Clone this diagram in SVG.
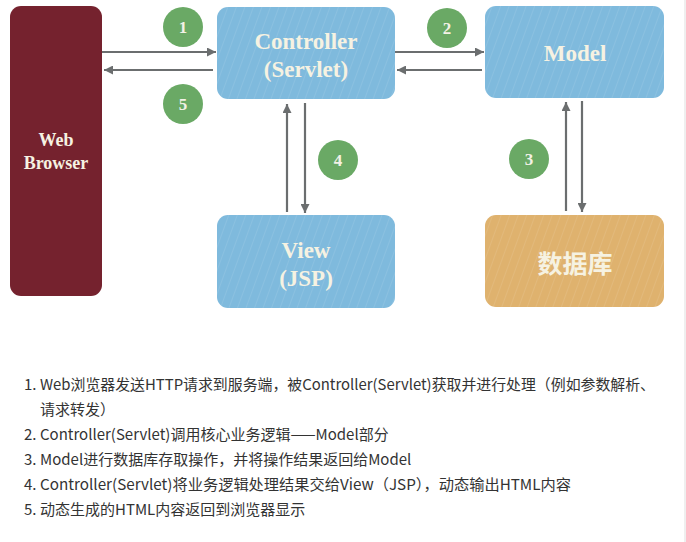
<svg xmlns="http://www.w3.org/2000/svg" width="686" height="542" viewBox="0 0 686 542">
<style>
.box{stroke:none}
.blue{fill:#7fbadd}
.tan{fill:#dfb26e}
.wine{fill:#75222e}
.lbl{font-family:"Liberation Serif","DejaVu Serif",serif;font-weight:bold;fill:#f6f2e2;text-anchor:middle}
.num{font-family:"Liberation Serif","DejaVu Serif",serif;font-weight:bold;fill:#f3f1e6;text-anchor:middle;font-size:17px}
.badge{fill:#6aa965}
.conn{stroke:#6b6e6f;stroke-width:2.2;fill:none}
.txt{font-family:"Noto Sans CJK SC","Microsoft YaHei",sans-serif;font-size:15px;fill:#333}
</style>
<defs>
<marker id="ah" viewBox="0 0 10 10" refX="10" refY="5" markerWidth="10" markerHeight="9" markerUnits="userSpaceOnUse" orient="auto">
<path d="M0,0 L10,5 L0,10 z" fill="#6b6e6f"/>
</marker>
<pattern id="grain" width="8" height="8" patternUnits="userSpaceOnUse" patternTransform="rotate(20)">
<line x1="0" y1="0" x2="0" y2="8" stroke="#ffffff" stroke-opacity="0.12" stroke-width="1.5"/>
</pattern>
</defs>
<rect x="0" y="0" width="686" height="542" fill="#ffffff"/>
<rect x="684" y="0" width="2" height="542" fill="#efefef"/>

<g id="connectors">
<line class="conn" x1="102" y1="52" x2="216" y2="52" marker-end="url(#ah)"/>
<line class="conn" x1="213" y1="70" x2="104" y2="70" marker-end="url(#ah)"/>
<line class="conn" x1="395" y1="52" x2="484" y2="52" marker-end="url(#ah)"/>
<line class="conn" x1="482" y1="70" x2="397" y2="70" marker-end="url(#ah)"/>
<line class="conn" x1="287" y1="212" x2="287" y2="104" marker-end="url(#ah)"/>
<line class="conn" x1="305" y1="103" x2="305" y2="213" marker-end="url(#ah)"/>
<line class="conn" x1="566" y1="211" x2="566" y2="102" marker-end="url(#ah)"/>
<line class="conn" x1="582" y1="101" x2="582" y2="212" marker-end="url(#ah)"/>
</g>

<g id="browser">
<rect class="box wine" x="10" y="6" width="92" height="290" rx="11"/>
<text class="lbl" x="56" y="146" font-size="18">Web</text>
<text class="lbl" x="56" y="169" font-size="18">Browser</text>
</g>

<g id="controller">
<rect class="box blue" x="217" y="7" width="178" height="92" rx="11"/>
<rect x="217" y="7" width="178" height="92" rx="11" fill="url(#grain)"/>
<text class="lbl" x="306" y="49" font-size="23">Controller</text>
<text class="lbl" x="306" y="77" font-size="23">(Servlet)</text>
</g>

<g id="model">
<rect class="box blue" x="485" y="6" width="179" height="92" rx="11"/>
<rect x="485" y="6" width="179" height="92" rx="11" fill="url(#grain)"/>
<text class="lbl" x="575" y="61" font-size="23">Model</text>
</g>

<g id="view">
<rect class="box blue" x="217" y="215" width="178" height="93" rx="11"/>
<rect x="217" y="215" width="178" height="93" rx="11" fill="url(#grain)"/>
<text class="lbl" x="306" y="258" font-size="23">View</text>
<text class="lbl" x="306" y="286" font-size="23">(JSP)</text>
</g>

<g id="database">
<rect class="box tan" x="485" y="215" width="179" height="92" rx="11"/>
<rect x="485" y="215" width="179" height="92" rx="11" fill="url(#grain)"/>
<text x="575" y="273" font-size="25" font-weight="bold" fill="#f6f2e2" text-anchor="middle" font-family="Noto Sans CJK SC, sans-serif">数据库</text>
</g>

<g id="step1"><circle class="badge" cx="183" cy="27" r="20"/><text class="num" x="183" y="33">1</text></g>
<g id="step2"><circle class="badge" cx="447" cy="28" r="20"/><text class="num" x="447" y="34">2</text></g>
<g id="step3"><circle class="badge" cx="529" cy="159" r="20"/><text class="num" x="529" y="165">3</text></g>
<g id="step4"><circle class="badge" cx="338" cy="160" r="20"/><text class="num" x="338" y="166">4</text></g>
<g id="step5"><circle class="badge" cx="183" cy="104" r="20"/><text class="num" x="183" y="110">5</text></g>

<g id="notes">
<text class="txt" x="24" y="390">1.</text>
<text class="txt" x="40" y="390" textLength="615" lengthAdjust="spacingAndGlyphs">Web浏览器发送HTTP请求到服务端，被Controller(Servlet)获取并进行处理（例如参数解析、</text>
<text class="txt" x="40" y="415">请求转发）</text>
<text class="txt" x="24" y="440">2.</text>
<text class="txt" x="40" y="440">Controller(Servlet)调用核心业务逻辑——Model部分</text>
<text class="txt" x="24" y="465">3.</text>
<text class="txt" x="40" y="465">Model进行数据库存取操作，并将操作结果返回给Model</text>
<text class="txt" x="24" y="490">4.</text>
<text class="txt" x="40" y="490" textLength="531" lengthAdjust="spacingAndGlyphs">Controller(Servlet)将业务逻辑处理结果交给View（JSP），动态输出HTML内容</text>
<text class="txt" x="24" y="515">5.</text>
<text class="txt" x="40" y="515">动态生成的HTML内容返回到浏览器显示</text>
</g>
</svg>
